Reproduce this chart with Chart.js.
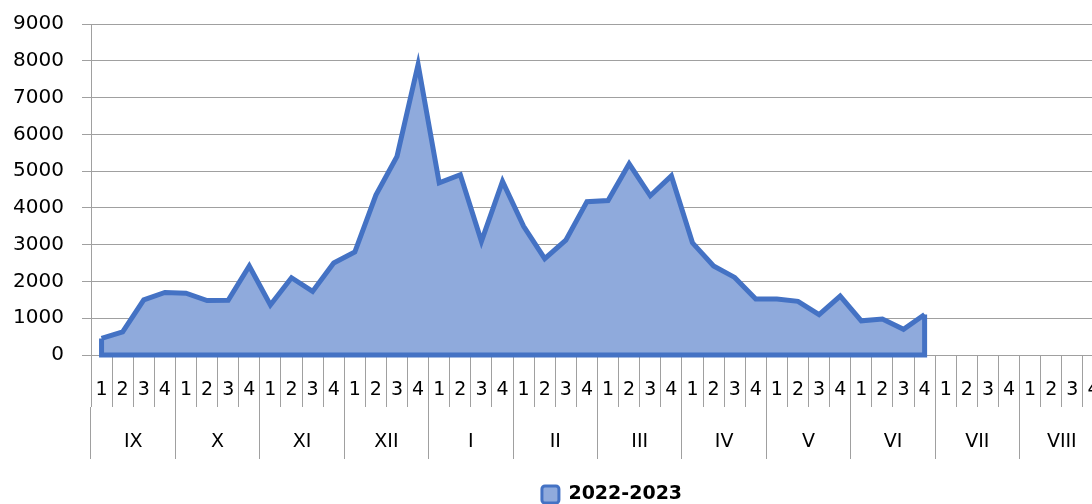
<!DOCTYPE html>
<html>
<head>
<meta charset="utf-8">
<script src="https://cdn.jsdelivr.net/npm/chart.js@4"></script>
<style>
  html, body { margin: 0; padding: 0; overflow: hidden; background: #fff; }
  #wrap { width: 1226px; height: 504px; position: relative; }
</style>
</head>
<body>
<div id="wrap"><canvas id="chart"></canvas></div>
<script>
const months = ['IX', 'X', 'XI', 'XII', 'I', 'II', 'III', 'IV', 'V', 'VI', 'VII', 'VIII'];
const weekNumbers = ['1', '2', '3', '4'];
const seriesName = '2022-2023';
const values = [
  450, 630, 1500, 1700, 1680, 1480, 1490, 2420,
  1360, 2100, 1730, 2500, 2800, 4350, 5400, 7900,
  4680, 4900, 3090, 4720, 3500, 2620, 3120, 4170,
  4200, 5200, 4330, 4870, 3050, 2420, 2110, 1520,
  1520, 1460, 1100, 1600, 930, 980, 700, 1100
];

const weekLabels = [];
months.forEach(() => weekNumbers.forEach(w => weekLabels.push(w)));

const lineColor = '#4472C4';
const fillColor = '#8FAADC';
const gridColor = '#a0a0a0';
const font = "'DejaVu Sans', sans-serif";

// excel draws the border all round the area, not only on top
const areaOutline = {
  id: 'areaOutline',
  afterDatasetsDraw(chart) {
    const pts = chart.getDatasetMeta(0).data.filter(p => !p.skip);
    if (!pts.length) return;
    const base = chart.scales.y.getPixelForValue(0);
    const first = pts[0];
    const last = pts[pts.length - 1];
    const ctx = chart.ctx;
    ctx.save();
    ctx.strokeStyle = lineColor;
    ctx.lineWidth = 5;
    ctx.beginPath();
    ctx.moveTo(first.x, first.y);
    ctx.lineTo(first.x, base);
    ctx.lineTo(last.x, base);
    ctx.lineTo(last.x, last.y);
    ctx.stroke();
    ctx.restore();
  }
};

// legend sits a bit right of the plot centre in the original
const legendShift = {
  id: 'legendShift',
  afterLayout(chart) {
    chart.legend.left += 60;
    chart.legend.right += 60;
  }
};

new Chart(document.getElementById('chart'), {
  type: 'line',
  data: {
    labels: weekLabels,
    datasets: [{
      label: seriesName,
      data: values,
      borderColor: lineColor,
      backgroundColor: fillColor,
      borderWidth: 5,
      fill: 'origin',
      pointRadius: 0,
      tension: 0
    }]
  },
  options: {
    responsive: true,
    maintainAspectRatio: false,
    animation: false,
    layout: { padding: { top: 24, right: 122, bottom: -10, left: 0 } },
    plugins: {
      tooltip: { enabled: false },
      legend: {
        position: 'bottom',
        labels: {
          boxWidth: 17,
          boxHeight: 17,
          padding: 2,
          useBorderRadius: true,
          borderRadius: 3,
          color: '#000',
          font: { family: font, size: 19, weight: 'bold', lineHeight: 1 },
          generateLabels(chart) {
            return Chart.defaults.plugins.legend.labels.generateLabels(chart)
              .map(l => Object.assign(l, { lineWidth: 3 }));
          }
        }
      }
    },
    scales: {
      x: {
        type: 'category',
        offset: true,
        weight: 0,
        grid: { offset: true, drawOnChartArea: false, tickLength: 52, color: gridColor },
        border: { display: false },
        ticks: { autoSkip: false, maxRotation: 0, padding: -28, color: '#000', font: { family: font, size: 19 } },
        afterFit: s => { s.height = 52; }
      },
      x2: {
        type: 'category',
        labels: months,
        position: 'bottom',
        offset: true,
        weight: 1,
        grid: { offset: true, drawOnChartArea: false, tickLength: 52, color: gridColor },
        border: { display: false },
        ticks: { autoSkip: false, maxRotation: 0, padding: -28, color: '#000', font: { family: font, size: 19 } },
        afterFit: s => { s.height = 76; }
      },
      y: {
        min: 0,
        max: 9000,
        ticks: { stepSize: 1000, padding: 18, color: '#000', font: { family: font, size: 20 }, callback: v => String(v) },
        grid: { color: gridColor, tickLength: 9 },
        border: { color: gridColor },
        afterFit: s => {
          s.width = 91;
          s.paddingTop = 0;
          s.paddingBottom = 0;
        }
      }
    }
  },
  plugins: [areaOutline, legendShift]
});
</script>
</body>
</html>
